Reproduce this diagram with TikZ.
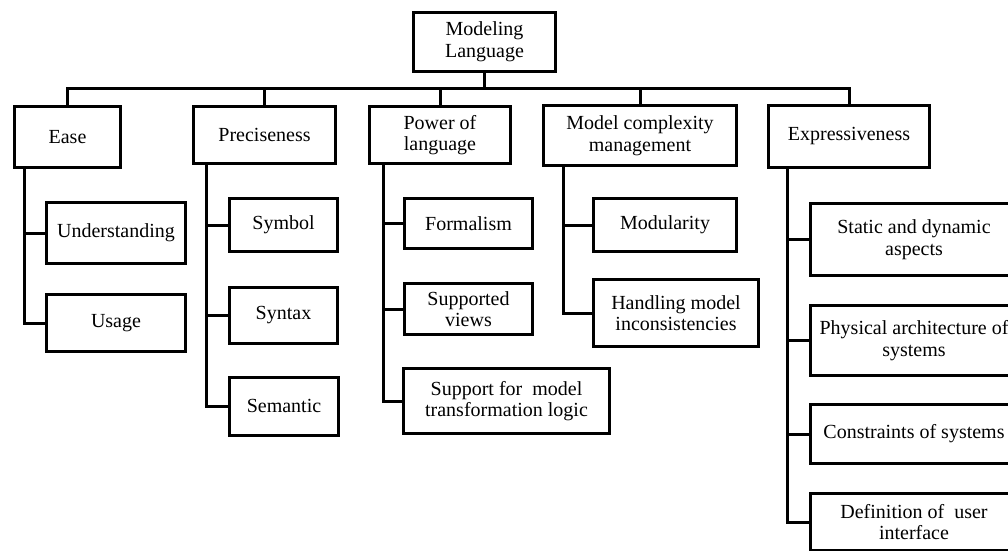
\documentclass[tikz,border=0pt]{standalone}
\usepackage{fontspec}
\setmainfont{Liberation Serif}
\begin{document}
\begin{tikzpicture}[x=1pt,y=-1pt,
  box/.style={draw, line width=3pt, rectangle, inner sep=0pt, align=center,
    font=\fontsize{20}{21.7}\selectfont},
  link/.style={line width=3pt}]
\useasboundingbox (0,0) rectangle (1008,550);
\begin{scope}
\clip (0,0) rectangle (1008,550);

% root
\node[box, minimum width=142pt, minimum height=59pt] (root) at (484.5,42) {Modeling\\Language};

% first level
\node[box, minimum width=106pt, minimum height=61pt] (ease) at (67.5,137) {Ease};
\node[box, minimum width=142pt, minimum height=57pt] (prec) at (264.5,135) {Preciseness};
\node[box, minimum width=141pt, minimum height=57pt] (power) at (440,135) {Power of\\language};
\node[box, minimum width=193pt, minimum height=60pt] (mcm) at (640,135.5) {Model complexity\\management};
\node[box, minimum width=161pt, minimum height=62pt] (expr) at (849,136.5) {Expressiveness};

% Ease
\node[box, minimum width=139pt, minimum height=61pt] (und) at (116,233) {Understanding};
\node[box, minimum width=139pt, minimum height=57pt] (usage) at (116,323) {Usage};

% Preciseness
\node[box, minimum width=108pt, minimum height=53pt] (symbol) at (283.5,225) {Symbol};
\node[box, minimum width=108pt, minimum height=56pt] (syntax) at (283.5,315.5) {Syntax};
\node[box, minimum width=109pt, minimum height=58pt] (semantic) at (284,406) {Semantic};

% Power of language
\node[box, minimum width=128pt, minimum height=50pt] (formal) at (468.5,223.5) {Formalism};
\node[box, minimum width=128pt, minimum height=51pt] (views) at (468.5,309) {Supported\\views};
\node[box, minimum width=206pt, minimum height=65pt] (trans) at (506.5,401) {Support for~ model\\transformation logic};

% Model complexity management
\node[box, minimum width=143pt, minimum height=53pt] (modul) at (665,225) {Modularity};
\node[box, minimum width=165pt, minimum height=67pt] (handl) at (676,313) {Handling model\\inconsistencies};

% Expressiveness
\node[box, minimum width=208pt, minimum height=72pt] (static) at (914,239.5) {Static and dynamic\\aspects};
\node[box, minimum width=208pt, minimum height=70pt] (phys) at (914,340.5) {Physical architecture of\\systems};
\node[box, minimum width=208pt, minimum height=59pt] (constr) at (914,434) {Constraints of systems};
\node[box, minimum width=208pt, minimum height=57pt] (defn) at (914,522) {Definition of~ user\\interface};

% bus under the root
\coordinate (bus) at (0,88);
\draw[link] (root.south) -- (root.south |- bus);
\draw[link] (ease.north) -- (ease.north |- bus) -- (expr.north |- bus) -- (expr.north);
\draw[link] (prec.north) -- (prec.north |- bus);
\draw[link] (power.north) -- (power.north |- bus);
\draw[link] (mcm.north) -- (mcm.north |- bus);

% trunks of each group
\coordinate (easeT) at (24,0);
\coordinate (precT) at (206,0);
\coordinate (powerT) at (383,0);
\coordinate (mcmT) at (563,0);
\coordinate (exprT) at (787,0);

\draw[link] (easeT |- ease.south) |- (usage.west);
\draw[link] (und.west) -- (und.west -| easeT);

\draw[link] (precT |- prec.south) |- (semantic.west);
\draw[link] (symbol.west) -- (symbol.west -| precT);
\draw[link] (syntax.west) -- (syntax.west -| precT);

\draw[link] (powerT |- power.south) |- (trans.west);
\draw[link] (formal.west) -- (formal.west -| powerT);
\draw[link] (views.west) -- (views.west -| powerT);

\draw[link] (mcmT |- mcm.south) |- (handl.west);
\draw[link] (modul.west) -- (modul.west -| mcmT);

\draw[link] (exprT |- expr.south) |- (defn.west);
\draw[link] (static.west) -- (static.west -| exprT);
\draw[link] (phys.west) -- (phys.west -| exprT);
\draw[link] (constr.west) -- (constr.west -| exprT);
\end{scope}
\end{tikzpicture}
\end{document}
